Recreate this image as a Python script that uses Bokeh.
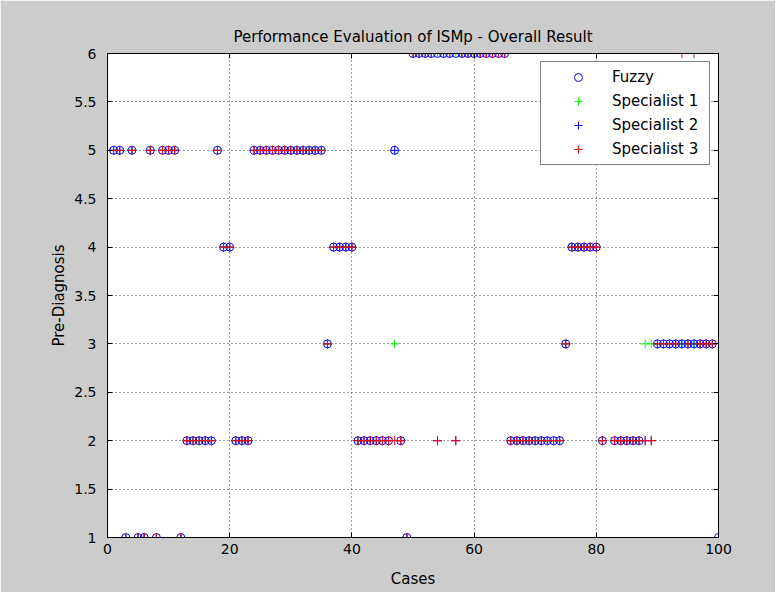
import math
from bokeh.plotting import figure
from bokeh.models import LinearAxis, Legend, LegendItem, FixedTicker, Range1d
from bokeh.embed import file_html
from bokeh.resources import INLINE

N = float("nan")

cases = list(range(1, 101))

fuzzy = [5, 5, 1, 5, 1, 1, 5, 1, 5, 5,
         5, 1, 2, 2, 2, 2, 2, 5, 4, 4,
         2, 2, 2, 5, 5, 5, 5, 5, 5, 5,
         5, 5, 5, 5, 5, 3, 4, 4, 4, 4,
         2, 2, 2, 2, 2, 2, 5, 2, 1, 6,
         6, 6, 6, 6, 6, 6, 6, 6, 6, 6,
         6, 6, 6, 6, 6, 2, 2, 2, 2, 2,
         2, 2, 2, 2, 3, 4, 4, 4, 4, 4,
         2, N, 2, 2, 2, 2, 2, N, N, 3,
         3, 3, 3, 3, 3, 3, 3, 3, 3, 1]

spec1 = [5, 5, 1, 5, 1, 1, 5, 1, 5, 5,
         5, 1, 2, 2, 2, 2, 2, 5, 4, 4,
         2, 2, 2, 5, 5, 5, 5, 5, 5, 5,
         5, 5, 5, 5, 5, 3, 4, 4, 4, 4,
         2, 2, 2, 2, 2, 2, 3, 2, 1, 6,
         6, 6, 6, 6, 6, 6, 6, 6, 6, 6,
         6, 6, 6, 6, 6, 2, 2, 2, 2, 2,
         2, 2, 2, 2, 3, 4, 4, 4, 4, 4,
         2, N, 2, 2, 2, 2, 2, 3, 3, 3,
         3, 3, 3, 3, 3, 3, 3, 3, 3, 1]

spec2 = [5, 5, 1, 5, 1, 1, 5, 1, 5, 5,
         5, 1, 2, 2, 2, 2, 2, 5, 4, 4,
         2, 2, 2, 5, 5, 5, 5, 5, 5, 5,
         5, 5, 5, 5, 5, 3, 4, 4, 4, 4,
         2, 2, 2, 2, 2, 2, 5, 2, 1, 6,
         6, 6, 6, 2, 6, 6, 2, 6, 6, 6,
         6, 6, 6, 6, 6, 2, 2, 2, 2, 2,
         2, 2, 2, 2, 3, 4, 4, 4, 4, 4,
         2, N, 2, 2, 2, 2, 2, 2, 2, 3,
         3, 3, 3, 3, 3, 3, 3, 3, 3, 1]

spec3 = [5, 5, 1, 5, 1, 1, 5, 1, 5, 5,
         5, 1, 2, 2, 2, 2, 2, 5, 4, 4,
         2, 2, 2, 5, 5, 5, 5, 5, 5, 5,
         5, 5, 5, 5, 5, 3, 4, 4, 4, 4,
         2, 2, 2, 2, 2, 2, 2, 2, 1, 6,
         6, 6, 6, 2, 6, 6, 2, 6, 6, 6,
         6, 6, 6, 6, 6, 2, 2, 2, 2, 2,
         2, 2, 2, 2, 3, 4, 4, 4, 4, 4,
         2, N, 2, 2, 2, 2, 2, 2, 2, 3,
         3, 3, 3, 6, 3, 6, 3, 3, 3, 1]

x_ticks = [0, 20, 40, 60, 80, 100]
y_ticks = [1, 1.5, 2, 2.5, 3, 3.5, 4, 4.5, 5, 5.5, 6]
labels = ["Fuzzy", "Specialist 1", "Specialist 2", "Specialist 3"]

FONT = "DejaVu Sans"

p = figure(frame_width=611, frame_height=484,
           x_range=Range1d(0, 100), y_range=Range1d(1, 6),
           output_backend="svg", toolbar_location=None,
           min_border_left=107, min_border_right=57,
           min_border_top=53, min_border_bottom=55,
           background_fill_color="white", border_fill_color="#cccccc",
           outline_line_color="black", outline_line_width=1,
           title="Performance Evaluation of ISMp - Overall Result")

p.title.align = "center"
p.title.text_font = FONT
p.title.text_font_size = "15px"
p.title.text_font_style = "normal"
p.title.text_color = "black"
p.title.standoff = 16

xt = FixedTicker(ticks=x_ticks)
yt = FixedTicker(ticks=y_ticks)

def style_axis(ax, ticker, show_labels=True):
    ax.ticker = ticker
    ax.major_tick_in = 5
    ax.major_tick_out = 0
    ax.minor_tick_line_color = None
    ax.axis_line_color = "black"
    ax.major_tick_line_color = "black"
    ax.major_label_text_font = FONT
    ax.major_label_text_font_size = "14px"
    ax.major_label_text_color = "black" if show_labels else None
    ax.axis_label_text_font = FONT
    ax.axis_label_text_font_size = "15px"
    ax.axis_label_text_font_style = "normal"
    ax.axis_label_text_color = "black"

style_axis(p.xaxis[0], xt)
style_axis(p.yaxis[0], yt)
p.xaxis[0].axis_label = "Cases"
p.yaxis[0].axis_label = "Pre-Diagnosis"
p.xaxis[0].major_label_standoff = 6
p.xaxis[0].axis_label_standoff = 13
p.yaxis[0].major_label_standoff = 11
p.yaxis[0].axis_label_standoff = 3

top_ax = LinearAxis()
style_axis(top_ax, xt, show_labels=False)
top_ax.major_label_standoff = 0
p.add_layout(top_ax, "above")
right_ax = LinearAxis()
style_axis(right_ax, yt, show_labels=False)
right_ax.major_label_standoff = 0
p.add_layout(right_ax, "right")

for g, t in ((p.xgrid[0], xt), (p.ygrid[0], yt)):
    g.ticker = t
    g.grid_line_color = "black"
    g.grid_line_alpha = 0.75
    g.grid_line_dash = "1 3"
    g.grid_line_width = 1

r0 = p.scatter(cases, fuzzy, marker="circle", size=8, fill_color=None,
               line_color="#0000ff", line_width=1)
r1 = p.scatter(cases, spec1, marker="cross", size=9, line_color="#00ff00", line_width=1)
r2 = p.scatter(cases, spec2, marker="cross", size=9, line_color="#0000ff", line_width=1)
r3 = p.scatter(cases, spec3, marker="cross", size=9, line_color="#ff0000", line_width=1)

legend = Legend(items=[LegendItem(label=labels[0], renderers=[r0]),
                       LegendItem(label=labels[1], renderers=[r1]),
                       LegendItem(label=labels[2], renderers=[r2]),
                       LegendItem(label=labels[3], renderers=[r3])],
                location="top_right", margin=8, padding=5, spacing=4,
                glyph_width=64, glyph_height=20, label_height=20,
                label_standoff=2, label_width=92,
                border_line_color="black", border_line_width=1,
                background_fill_color="white", background_fill_alpha=1,
                label_text_font=FONT, label_text_font_size="15px",
                label_text_color="black")
p.add_layout(legend)

open("out.html", "w").write(file_html(p, INLINE))
